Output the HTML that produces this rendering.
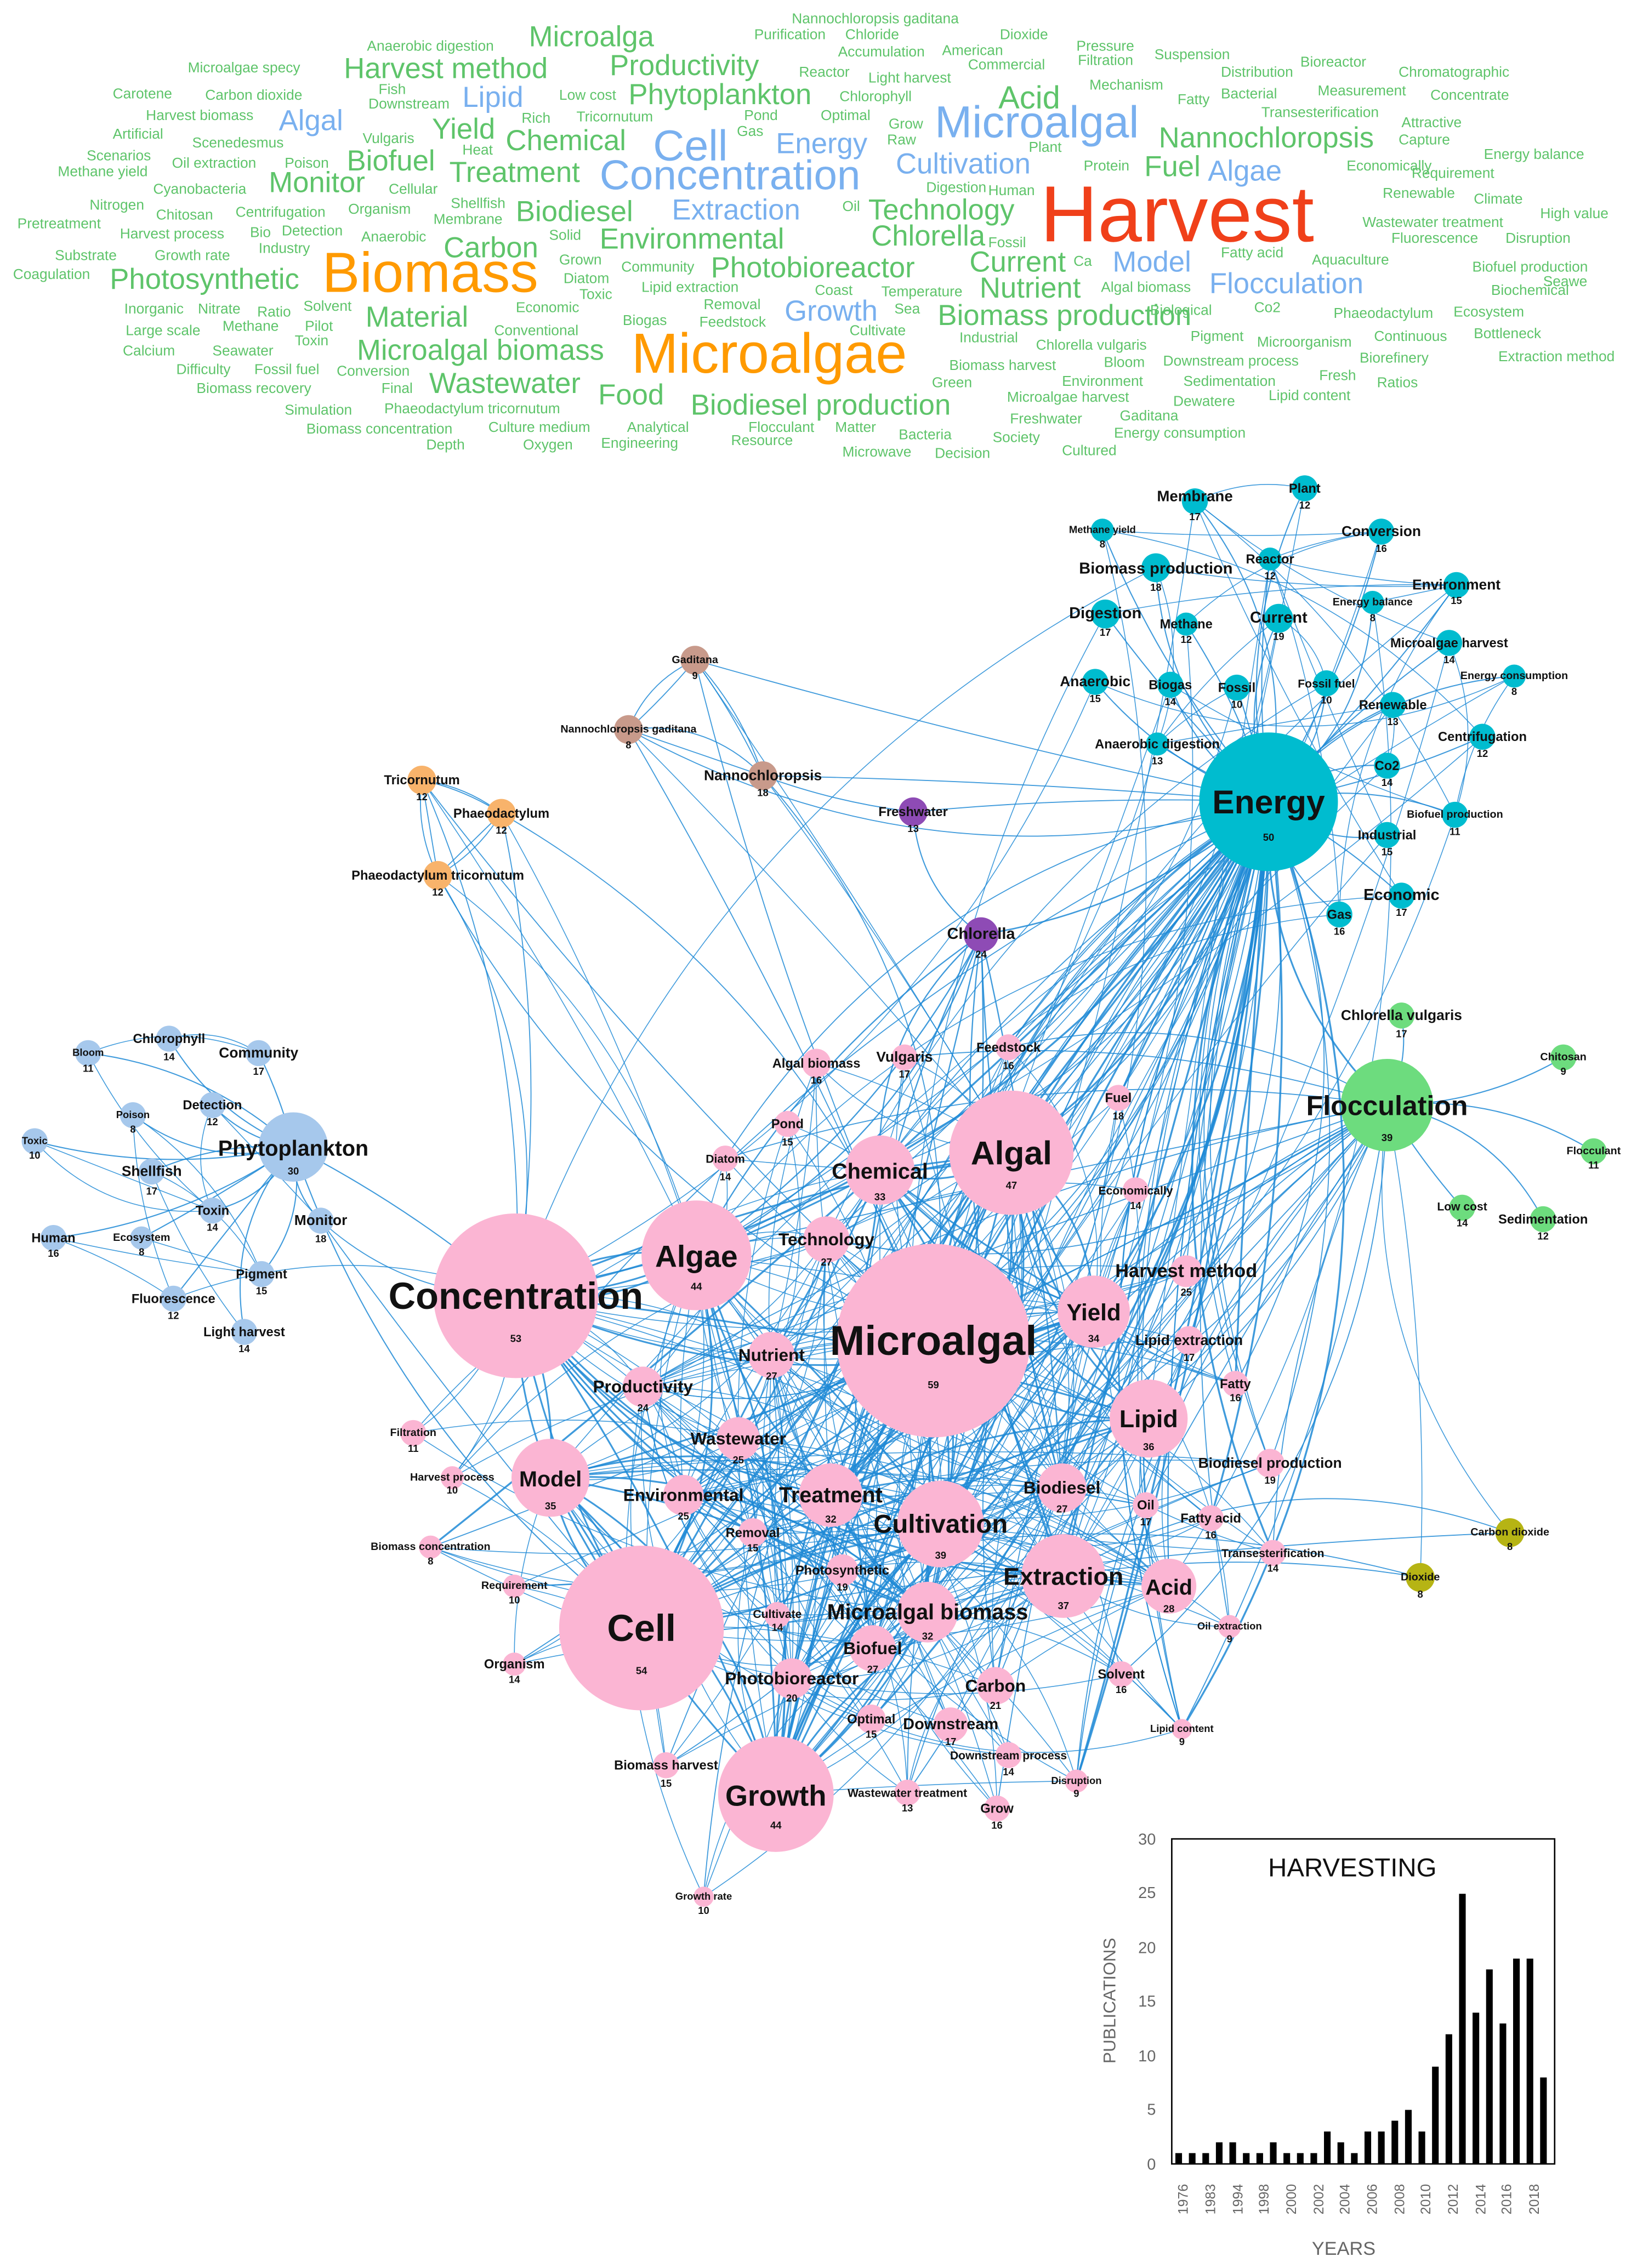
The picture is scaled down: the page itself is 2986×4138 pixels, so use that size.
<!DOCTYPE html>
<html><head><meta charset="utf-8"><style>
html,body{margin:0;padding:0;background:#fff}
svg{display:block}
.w text{font-family:"Liberation Sans",sans-serif}
.g{fill:#5ec46a}.b{fill:#79b0ef}.o{fill:#ff9a00}.r{fill:#f0401a}
.n text{font-family:"Liberation Sans",sans-serif;font-weight:bold;fill:#111;text-anchor:middle}
.ax{font-family:"Liberation Sans",sans-serif;fill:#666}
</style></head><body>
<svg id="s" width="2986" height="4138" viewBox="0 0 1133 1570" xmlns="http://www.w3.org/2000/svg">
<rect width="1133" height="1570" fill="#fff"/>
<g class="w" font-size="10">
<text x="548" y="16" class="g">Nannochloropsis gaditana</text>
<text x="522" y="27" class="g">Purification</text><text x="585" y="27" class="g">Chloride</text><text x="692" y="27" class="g">Dioxide</text>
<text x="254" y="35" class="g">Anaerobic digestion</text><text x="366" y="32" class="g" font-size="20">Microalga</text><text x="580" y="39" class="g">Accumulation</text><text x="652" y="38" class="g">American</text><text x="745" y="35" class="g">Pressure</text>
<text x="130" y="50" class="g">Microalgae specy</text><text x="238" y="54" class="g" font-size="20">Harvest method</text><text x="422" y="52" class="g" font-size="20">Productivity</text><text x="553" y="53" class="g">Reactor</text><text x="601" y="57" class="g">Light harvest</text><text x="670" y="48" class="g">Commercial</text><text x="746" y="45" class="g">Filtration</text><text x="799" y="41" class="g">Suspension</text><text x="900" y="46" class="g">Bioreactor</text><text x="845" y="53" class="g">Distribution</text><text x="968" y="53" class="g">Chromatographic</text>
<text x="78" y="68" class="g">Carotene</text><text x="142" y="69" class="g">Carbon dioxide</text><text x="262" y="65" class="g">Fish</text><text x="255" y="75" class="g">Downstream</text><text x="320" y="74" class="b" font-size="20">Lipid</text><text x="387" y="69" class="g">Low cost</text><text x="435" y="72" class="g" font-size="20">Phytoplankton</text><text x="581" y="70" class="g">Chlorophyll</text><text x="691" y="75" class="g" font-size="22">Acid</text><text x="754" y="62" class="g">Mechanism</text><text x="815" y="72" class="g">Fatty</text><text x="845" y="68" class="g">Bacterial</text><text x="912" y="66" class="g">Measurement</text><text x="990" y="69" class="g">Concentrate</text>
<text x="101" y="83" class="g">Harvest biomass</text><text x="193" y="90" class="b" font-size="20">Algal</text><text x="361" y="85" class="g">Rich</text><text x="399" y="84" class="g">Tricornutum</text><text x="515" y="83" class="g">Pond</text><text x="568" y="83" class="g">Optimal</text><text x="615" y="89" class="g">Grow</text><text x="647" y="95" class="b" font-size="31">Microalgal</text><text x="873" y="81" class="g">Transesterification</text>
<text x="78" y="96" class="g">Artificial</text><text x="251" y="99" class="g">Vulgaris</text><text x="299" y="96" class="g" font-size="20">Yield</text><text x="350" y="104" class="g" font-size="20">Chemical</text><text x="452" y="111" class="b" font-size="30">Cell</text><text x="510" y="94" class="g">Gas</text><text x="537" y="106" class="b" font-size="20">Energy</text><text x="614" y="100" class="g">Raw</text><text x="802" y="102" class="g" font-size="20">Nannochloropsis</text><text x="970" y="88" class="g">Attractive</text><text x="968" y="100" class="g">Capture</text>
<text x="60" y="111" class="g">Scenarios</text><text x="133" y="102" class="g">Scenedesmus</text><text x="320" y="107" class="g">Heat</text><text x="712" y="105" class="g">Plant</text><text x="1027" y="110" class="g">Energy balance</text>
<text x="40" y="122" class="g">Methane yield</text><text x="119" y="116" class="g">Oil extraction</text><text x="197" y="116" class="g">Poison</text><text x="240" y="118" class="g" font-size="20">Biofuel</text><text x="311" y="126" class="g" font-size="20">Treatment</text><text x="415" y="131" class="b" font-size="29">Concentration</text><text x="620" y="120" class="b" font-size="20">Cultivation</text><text x="750" y="118" class="g">Protein</text><text x="792" y="122" class="g" font-size="20">Fuel</text><text x="836" y="125" class="b" font-size="20">Algae</text><text x="932" y="118" class="g">Economically</text><text x="977" y="123" class="g">Requirement</text>
<text x="106" y="134" class="g">Cyanobacteria</text><text x="186" y="133" class="g" font-size="20">Monitor</text><text x="269" y="134" class="g">Cellular</text><text x="641" y="133" class="g">Digestion</text><text x="684" y="135" class="g">Human</text><text x="720" y="167" class="r" font-size="55">Harvest</text><text x="957" y="137" class="g">Renewable</text><text x="1020" y="141" class="g">Climate</text>
<text x="62" y="145" class="g">Nitrogen</text><text x="12" y="158" class="g">Pretreatment</text><text x="108" y="152" class="g">Chitosan</text><text x="163" y="150" class="g">Centrifugation</text><text x="241" y="148" class="g">Organism</text><text x="312" y="144" class="g">Shellfish</text><text x="300" y="155" class="g">Membrane</text><text x="357" y="153" class="g" font-size="20">Biodiesel</text><text x="465" y="152" class="b" font-size="20">Extraction</text><text x="583" y="146" class="g">Oil</text><text x="601" y="152" class="g" font-size="20">Technology</text><text x="943" y="157" class="g">Wastewater treatment</text><text x="1066" y="151" class="g">High value</text>
<text x="83" y="165" class="g">Harvest process</text><text x="173" y="164" class="g">Bio</text><text x="195" y="163" class="g">Detection</text><text x="250" y="167" class="g">Anaerobic</text><text x="380" y="166" class="g">Solid</text><text x="415" y="172" class="g" font-size="20">Environmental</text><text x="603" y="170" class="g" font-size="20">Chlorella</text><text x="684" y="171" class="g">Fossil</text><text x="963" y="168" class="g">Fluorescence</text><text x="1042" y="168" class="g">Disruption</text>
<text x="38" y="180" class="g">Substrate</text><text x="107" y="180" class="g">Growth rate</text><text x="179" y="175" class="g">Industry</text><text x="307" y="178" class="g" font-size="20">Carbon</text><text x="387" y="183" class="g">Grown</text><text x="430" y="188" class="g">Community</text><text x="492" y="192" class="g" font-size="20">Photobioreactor</text><text x="671" y="188" class="g" font-size="20">Current</text><text x="743" y="184" class="g">Ca</text><text x="770" y="188" class="b" font-size="20">Model</text><text x="845" y="178" class="g">Fatty acid</text><text x="908" y="183" class="g">Aquaculture</text><text x="1019" y="188" class="g">Biofuel production</text>
<text x="9" y="193" class="g">Coagulation</text><text x="76" y="200" class="g" font-size="20">Photosynthetic</text><text x="223" y="202" class="o" font-size="39">Biomass</text><text x="390" y="196" class="g">Diatom</text><text x="401" y="207" class="g">Toxic</text><text x="444" y="202" class="g">Lipid extraction</text><text x="564" y="204" class="g">Coast</text><text x="610" y="205" class="g">Temperature</text><text x="678" y="206" class="g" font-size="20">Nutrient</text><text x="762" y="202" class="g">Algal biomass</text><text x="837" y="203" class="b" font-size="20">Flocculation</text><text x="1032" y="204" class="g">Biochemical</text><text x="1068" y="198" class="g">Seawe</text>
<text x="86" y="217" class="g">Inorganic</text><text x="137" y="217" class="g">Nitrate</text><text x="178" y="219" class="g">Ratio</text><text x="210" y="215" class="g">Solvent</text><text x="253" y="226" class="g" font-size="20">Material</text><text x="357" y="216" class="g">Economic</text><text x="487" y="214" class="g">Removal</text><text x="543" y="222" class="b" font-size="20">Growth</text><text x="619" y="217" class="g">Sea</text><text x="649" y="225" class="g" font-size="20">Biomass production</text><text x="796" y="218" class="g">Biological</text><text x="868" y="216" class="g">Co2</text><text x="923" y="220" class="g">Phaeodactylum</text><text x="1006" y="219" class="g">Ecosystem</text>
<text x="87" y="232" class="g">Large scale</text><text x="154" y="229" class="g">Methane</text><text x="211" y="229" class="g">Pilot</text><text x="342" y="232" class="g">Conventional</text><text x="431" y="225" class="g">Biogas</text><text x="484" y="226" class="g">Feedstock</text><text x="588" y="232" class="g">Cultivate</text><text x="664" y="237" class="g">Industrial</text><text x="717" y="242" class="g">Chlorella vulgaris</text><text x="824" y="236" class="g">Pigment</text><text x="870" y="240" class="g">Microorganism</text><text x="951" y="236" class="g">Continuous</text><text x="1020" y="234" class="g">Bottleneck</text>
<text x="204" y="239" class="g">Toxin</text><text x="85" y="246" class="g">Calcium</text><text x="147" y="246" class="g">Seawater</text><text x="247" y="249" class="g" font-size="20">Microalgal biomass</text><text x="437" y="258" class="o" font-size="39">Microalgae</text><text x="657" y="256" class="g">Biomass harvest</text><text x="764" y="254" class="g">Bloom</text><text x="805" y="253" class="g">Downstream process</text><text x="941" y="251" class="g">Biorefinery</text><text x="1037" y="250" class="g">Extraction method</text>
<text x="122" y="259" class="g">Difficulty</text><text x="176" y="259" class="g">Fossil fuel</text><text x="233" y="260" class="g">Conversion</text><text x="297" y="272" class="g" font-size="20">Wastewater</text><text x="264" y="272" class="g">Final</text><text x="645" y="268" class="g">Green</text><text x="735" y="267" class="g">Environment</text><text x="819" y="267" class="g">Sedimentation</text><text x="913" y="263" class="g">Fresh</text><text x="953" y="268" class="g">Ratios</text>
<text x="136" y="272" class="g">Biomass recovery</text><text x="414" y="280" class="g" font-size="20">Food</text><text x="478" y="287" class="g" font-size="20">Biodiesel production</text><text x="697" y="278" class="g">Microalgae harvest</text><text x="812" y="281" class="g">Dewatere</text><text x="878" y="277" class="g">Lipid content</text>
<text x="197" y="287" class="g">Simulation</text><text x="266" y="286" class="g">Phaeodactylum tricornutum</text><text x="699" y="293" class="g">Freshwater</text><text x="775" y="291" class="g">Gaditana</text>
<text x="212" y="300" class="g">Biomass concentration</text><text x="338" y="299" class="g">Culture medium</text><text x="434" y="299" class="g">Analytical</text><text x="518" y="299" class="g">Flocculant</text><text x="578" y="299" class="g">Matter</text><text x="622" y="304" class="g">Bacteria</text><text x="687" y="306" class="g">Society</text><text x="771" y="303" class="g">Energy consumption</text>
<text x="295" y="311" class="g">Depth</text><text x="362" y="311" class="g">Oxygen</text><text x="416" y="310" class="g">Engineering</text><text x="506" y="308" class="g">Resource</text><text x="583" y="316" class="g">Microwave</text><text x="647" y="317" class="g">Decision</text><text x="735" y="315" class="g">Cultured</text>
</g>
<g id="edges" fill="none" stroke="#1f8ad6" stroke-width="0.7" stroke-opacity="0.85"></g>
<g class="n" id="nodes">
<g fill="#fbb5d3">
<circle cx="357" cy="897" r="57"/><circle cx="444" cy="1127" r="57"/><circle cx="646" cy="928" r="67"/><circle cx="700" cy="798" r="43"/><circle cx="482" cy="869" r="38"/><circle cx="537" cy="1242" r="40"/><circle cx="609" cy="810" r="24"/><circle cx="381" cy="1023" r="27"/><circle cx="795" cy="982" r="27"/><circle cx="651" cy="1055" r="30"/><circle cx="736" cy="1091" r="29"/><circle cx="757" cy="908" r="25"/><circle cx="809" cy="1098" r="19"/><circle cx="575" cy="1035" r="22"/><circle cx="642" cy="1116" r="21"/><circle cx="572" cy="858" r="16"/><circle cx="534" cy="938" r="16"/><circle cx="511" cy="996" r="15"/><circle cx="445" cy="960" r="14"/><circle cx="473" cy="1035" r="14"/><circle cx="735" cy="1030" r="17"/><circle cx="604" cy="1141" r="16"/><circle cx="548" cy="1162" r="14"/><circle cx="689" cy="1167" r="13"/><circle cx="658" cy="1194" r="12"/><circle cx="603" cy="1190" r="10"/><circle cx="583" cy="1087" r="11"/><circle cx="521" cy="1061" r="10"/><circle cx="538" cy="1118" r="9"/><circle cx="821" cy="880" r="11"/><circle cx="823" cy="928" r="10"/><circle cx="855" cy="958" r="9"/><circle cx="879" cy="1013" r="10"/><circle cx="793" cy="1042" r="9"/><circle cx="838" cy="1051" r="9"/><circle cx="881" cy="1075" r="9"/><circle cx="851" cy="1126" r="8"/><circle cx="776" cy="1159" r="9"/><circle cx="818" cy="1197" r="7"/><circle cx="745" cy="1233" r="8"/><circle cx="698" cy="1215" r="9"/><circle cx="690" cy="1252" r="9"/><circle cx="628" cy="1241" r="9"/><circle cx="461" cy="1222" r="9"/><circle cx="356" cy="1152" r="8"/><circle cx="356" cy="1098" r="8"/><circle cx="298" cy="1071" r="8"/><circle cx="313" cy="1023" r="8"/><circle cx="286" cy="992" r="9"/><circle cx="487" cy="1313" r="7"/><circle cx="502" cy="802" r="9"/><circle cx="545" cy="778" r="9"/><circle cx="565" cy="736" r="10"/><circle cx="626" cy="732" r="9"/><circle cx="698" cy="725" r="9"/><circle cx="774" cy="760" r="9"/><circle cx="786" cy="824" r="9"/>
</g>
<g fill="#00bccf">
<circle cx="878" cy="555" r="48"/><circle cx="827" cy="347" r="9"/><circle cx="903" cy="338" r="9"/><circle cx="956" cy="368" r="9"/><circle cx="763" cy="367" r="8"/><circle cx="800" cy="393" r="10"/><circle cx="879" cy="387" r="8"/><circle cx="1008" cy="405" r="9"/><circle cx="950" cy="417" r="8"/><circle cx="765" cy="425" r="10"/><circle cx="821" cy="432" r="8"/><circle cx="885" cy="428" r="10"/><circle cx="1003" cy="445" r="9"/><circle cx="758" cy="472" r="9"/><circle cx="810" cy="474" r="9"/><circle cx="856" cy="476" r="9"/><circle cx="918" cy="473" r="9"/><circle cx="1048" cy="468" r="8"/><circle cx="964" cy="488" r="9"/><circle cx="801" cy="515" r="8"/><circle cx="1026" cy="510" r="9"/><circle cx="960" cy="530" r="9"/><circle cx="1007" cy="564" r="9"/><circle cx="960" cy="578" r="9"/><circle cx="970" cy="620" r="9"/><circle cx="927" cy="633" r="9"/>
</g>
<g fill="#6ddc7e"><circle cx="960" cy="765" r="32"/><circle cx="970" cy="703" r="9"/><circle cx="1082" cy="732" r="9"/><circle cx="1103" cy="797" r="9"/><circle cx="1012" cy="836" r="9"/><circle cx="1068" cy="844" r="9"/></g>
<g fill="#f8b36b"><circle cx="292" cy="540" r="10"/><circle cx="347" cy="563" r="10"/><circle cx="303" cy="606" r="10"/></g>
<g fill="#c89a8b"><circle cx="481" cy="457" r="10"/><circle cx="435" cy="505" r="10"/><circle cx="528" cy="537" r="10"/></g>
<g fill="#8e4bb5"><circle cx="632" cy="562" r="10"/><circle cx="679" cy="647" r="12"/></g>
<g fill="#b6b414"><circle cx="1045" cy="1061" r="10"/><circle cx="983" cy="1092" r="10"/></g>
<g fill="#a6c8ec"><circle cx="203" cy="794" r="24"/><circle cx="61" cy="729" r="9"/><circle cx="117" cy="719" r="9"/><circle cx="179" cy="729" r="9"/><circle cx="147" cy="765" r="9"/><circle cx="92" cy="772" r="9"/><circle cx="24" cy="790" r="9"/><circle cx="105" cy="811" r="9"/><circle cx="147" cy="838" r="9"/><circle cx="222" cy="845" r="9"/><circle cx="37" cy="857" r="9"/><circle cx="98" cy="857" r="8"/><circle cx="181" cy="882" r="9"/><circle cx="120" cy="899" r="9"/><circle cx="169" cy="922" r="9"/></g>
<g font-size="26"><text x="357" y="906">Concentration</text><text x="444" y="1136">Cell</text><text x="646" y="938" font-size="29">Microalgal</text><text x="700" y="806" font-size="23">Algal</text><text x="482" y="877" font-size="21">Algae</text><text x="537" y="1250" font-size="20">Growth</text><text x="878" y="563" font-size="23">Energy</text><text x="960" y="772" font-size="19">Flocculation</text></g>
<g font-size="15"><text x="203" y="800">Phytoplankton</text><text x="609" y="816">Chemical</text><text x="381" y="1029">Model</text><text x="795" y="988" font-size="17">Lipid</text><text x="651" y="1061" font-size="18">Cultivation</text><text x="736" y="1097" font-size="17">Extraction</text><text x="757" y="914" font-size="16">Yield</text><text x="809" y="1104">Acid</text><text x="575" y="1040">Treatment</text><text x="642" y="1121">Microalgal biomass</text></g>
<g font-size="12"><text x="572" y="862">Technology</text><text x="534" y="942">Nutrient</text><text x="511" y="1000">Wastewater</text><text x="445" y="964">Productivity</text><text x="473" y="1039">Environmental</text><text x="735" y="1034">Biodiesel</text><text x="604" y="1145">Biofuel</text><text x="548" y="1166">Photobioreactor</text><text x="689" y="1171">Carbon</text><text x="658" y="1197" font-size="11">Downstream</text><text x="821" y="884" font-size="13">Harvest method</text><text x="823" y="931" font-size="10">Lipid extraction</text><text x="879" y="1016" font-size="10">Biodiesel production</text><text x="827" y="347" font-size="10.5">Membrane</text><text x="956" y="371" font-size="10">Conversion</text><text x="800" y="397" font-size="11">Biomass production</text><text x="1008" y="408" font-size="10">Environment</text><text x="765" y="428" font-size="11">Digestion</text><text x="885" y="431" font-size="11">Current</text><text x="758" y="475" font-size="10">Anaerobic</text><text x="970" y="623" font-size="11">Economic</text></g>
<g font-size="9"><text x="603" y="1193">Optimal</text><text x="583" y="1090">Photosynthetic</text><text x="521" y="1064">Removal</text><text x="538" y="1120" font-size="8">Cultivate</text><text x="855" y="961">Fatty</text><text x="793" y="1045">Oil</text><text x="838" y="1054">Fatty acid</text><text x="881" y="1078" font-size="8">Transesterification</text><text x="851" y="1128" font-size="7">Oil extraction</text><text x="776" y="1162">Solvent</text><text x="818" y="1199" font-size="7">Lipid content</text><text x="745" y="1235" font-size="7">Disruption</text><text x="698" y="1218" font-size="8">Downstream process</text><text x="690" y="1255">Grow</text><text x="628" y="1244" font-size="8">Wastewater treatment</text><text x="461" y="1225">Biomass harvest</text><text x="356" y="1155">Organism</text><text x="356" y="1100" font-size="7.5">Requirement</text><text x="298" y="1073" font-size="7.5">Biomass concentration</text><text x="313" y="1025" font-size="7.5">Harvest process</text><text x="286" y="994" font-size="7.5">Filtration</text><text x="487" y="1315" font-size="7">Growth rate</text><text x="502" y="805" font-size="8">Diatom</text><text x="545" y="781">Pond</text><text x="565" y="739">Algal biomass</text><text x="626" y="735" font-size="10">Vulgaris</text><text x="698" y="728">Feedstock</text><text x="774" y="763">Fuel</text><text x="786" y="827" font-size="8">Economically</text>
<text x="903" y="341">Plant</text><text x="763" y="369" font-size="7">Methane yield</text><text x="879" y="390">Reactor</text><text x="950" y="419" font-size="7.5">Energy balance</text><text x="821" y="435">Methane</text><text x="1003" y="448">Microalgae harvest</text><text x="810" y="477">Biogas</text><text x="856" y="479">Fossil</text><text x="918" y="476" font-size="8">Fossil fuel</text><text x="1048" y="470" font-size="7.5">Energy consumption</text><text x="964" y="491">Renewable</text><text x="801" y="518">Anaerobic digestion</text><text x="1026" y="513">Centrifugation</text><text x="960" y="533">Co2</text><text x="1007" y="566" font-size="7.5">Biofuel production</text><text x="960" y="581">Industrial</text><text x="927" y="636">Gas</text>
<text x="970" y="706" font-size="10">Chlorella vulgaris</text><text x="1082" y="734" font-size="7.5">Chitosan</text><text x="1103" y="799" font-size="7.5">Flocculant</text><text x="1012" y="838" font-size="8">Low cost</text><text x="1068" y="847">Sedimentation</text>
<text x="292" y="543">Tricornutum</text><text x="347" y="566">Phaeodactylum</text><text x="303" y="609">Phaeodactylum tricornutum</text>
<text x="481" y="459" font-size="7.5">Gaditana</text><text x="435" y="507" font-size="7.5">Nannochloropsis gaditana</text><text x="528" y="540" font-size="10">Nannochloropsis</text>
<text x="632" y="565">Freshwater</text><text x="679" y="650" font-size="11">Chlorella</text>
<text x="1045" y="1063" font-size="7.5">Carbon dioxide</text><text x="983" y="1094" font-size="7.5">Dioxide</text>
<text x="61" y="731" font-size="7">Bloom</text><text x="117" y="722">Chlorophyll</text><text x="179" y="732" font-size="10">Community</text><text x="147" y="768">Detection</text><text x="92" y="774" font-size="7">Poison</text><text x="24" y="792" font-size="7">Toxic</text><text x="105" y="814" font-size="10">Shellfish</text><text x="147" y="841">Toxin</text><text x="222" y="848" font-size="10">Monitor</text><text x="37" y="860">Human</text><text x="98" y="859" font-size="7.5">Ecosystem</text><text x="181" y="885">Pigment</text><text x="120" y="902">Fluorescence</text><text x="169" y="925">Light harvest</text></g>
<g font-size="7" font-weight="bold">
<text x="357" y="929">53</text><text x="444" y="1159">54</text><text x="646" y="961">59</text><text x="700" y="823">47</text><text x="482" y="893">44</text><text x="537" y="1266">44</text><text x="878" y="582">50</text><text x="960" y="790">39</text><text x="203" y="813">30</text><text x="609" y="831">33</text><text x="381" y="1045">35</text><text x="795" y="1004">36</text><text x="651" y="1079">39</text><text x="736" y="1114">37</text><text x="757" y="929">34</text><text x="809" y="1116">28</text><text x="575" y="1054">32</text><text x="642" y="1135">32</text><text x="572" y="876">27</text><text x="534" y="955">27</text><text x="511" y="1013">25</text><text x="445" y="977">24</text><text x="473" y="1052">25</text><text x="735" y="1047">27</text><text x="604" y="1158">27</text><text x="548" y="1178">20</text><text x="689" y="1183">21</text><text x="658" y="1208">17</text><text x="603" y="1203">15</text><text x="583" y="1101">19</text><text x="521" y="1074">15</text><text x="538" y="1129">14</text><text x="821" y="897">25</text><text x="823" y="942">17</text><text x="855" y="970">16</text><text x="879" y="1027">19</text><text x="793" y="1056">17</text><text x="838" y="1065">16</text><text x="881" y="1088">14</text><text x="851" y="1137">9</text><text x="776" y="1172">16</text><text x="818" y="1208">9</text><text x="745" y="1244">9</text><text x="698" y="1229">14</text><text x="690" y="1266">16</text><text x="628" y="1254">13</text><text x="461" y="1237">15</text><text x="356" y="1165">14</text><text x="356" y="1110">10</text><text x="298" y="1083">8</text><text x="313" y="1034">10</text><text x="286" y="1005">11</text><text x="487" y="1325">10</text><text x="502" y="817">14</text><text x="545" y="793">15</text><text x="565" y="750">16</text><text x="626" y="746">17</text><text x="698" y="740">16</text><text x="774" y="775">18</text><text x="786" y="837">14</text>
<text x="827" y="360">17</text><text x="903" y="352">12</text><text x="956" y="382">16</text><text x="763" y="379">8</text><text x="800" y="409">18</text><text x="879" y="401">12</text><text x="1008" y="418">15</text><text x="950" y="430">8</text><text x="765" y="440">17</text><text x="821" y="445">12</text><text x="885" y="443">19</text><text x="1003" y="459">14</text><text x="758" y="486">15</text><text x="810" y="488">14</text><text x="856" y="490">10</text><text x="918" y="487">10</text><text x="1048" y="481">8</text><text x="964" y="502">13</text><text x="801" y="529">13</text><text x="1026" y="524">12</text><text x="960" y="544">14</text><text x="1007" y="578">11</text><text x="960" y="592">15</text><text x="970" y="634">17</text><text x="927" y="647">16</text>
<text x="970" y="718">17</text><text x="1082" y="744">9</text><text x="1103" y="809">11</text><text x="1012" y="849">14</text><text x="1068" y="858">12</text>
<text x="292" y="554">12</text><text x="347" y="577">12</text><text x="303" y="620">12</text><text x="481" y="470">9</text><text x="435" y="518">8</text><text x="528" y="551">18</text><text x="632" y="576">13</text><text x="679" y="663">24</text><text x="1045" y="1073">8</text><text x="983" y="1106">8</text>
<text x="61" y="742">11</text><text x="117" y="734">14</text><text x="179" y="744">17</text><text x="147" y="779">12</text><text x="92" y="784">8</text><text x="24" y="802">10</text><text x="105" y="827">17</text><text x="147" y="852">14</text><text x="222" y="860">18</text><text x="37" y="870">16</text><text x="98" y="869">8</text><text x="181" y="896">15</text><text x="120" y="913">12</text><text x="169" y="936">14</text>
</g>
</g>
<g id="chart">
<rect x="811" y="1273" width="265" height="225" fill="none" stroke="#000" stroke-width="1"/>
<g class="ax" font-size="11" text-anchor="end"><text x="800" y="1502">0</text><text x="800" y="1464">5</text><text x="800" y="1427">10</text><text x="800" y="1389">15</text><text x="800" y="1352">20</text><text x="800" y="1314">25</text><text x="800" y="1277">30</text></g>
<text x="936" y="1299" font-family="Liberation Sans,sans-serif" font-size="18" text-anchor="middle" fill="#111">HARVESTING</text>
<text transform="translate(772,1385) rotate(-90)" class="ax" font-size="12" text-anchor="middle">PUBLICATIONS</text>
<text x="930" y="1561" class="ax" font-size="13" text-anchor="middle">YEARS</text>
<g id="bars" fill="#000"></g>
<g class="ax" font-size="9.5">
<text transform="translate(822,1533) rotate(-90)">1976</text><text transform="translate(841,1533) rotate(-90)">1983</text><text transform="translate(860,1533) rotate(-90)">1994</text><text transform="translate(878,1533) rotate(-90)">1998</text><text transform="translate(897,1533) rotate(-90)">2000</text><text transform="translate(916,1533) rotate(-90)">2002</text><text transform="translate(934,1533) rotate(-90)">2004</text><text transform="translate(953,1533) rotate(-90)">2006</text><text transform="translate(972,1533) rotate(-90)">2008</text><text transform="translate(990,1533) rotate(-90)">2010</text><text transform="translate(1009,1533) rotate(-90)">2012</text><text transform="translate(1028,1533) rotate(-90)">2014</text><text transform="translate(1046,1533) rotate(-90)">2016</text><text transform="translate(1065,1533) rotate(-90)">2018</text>
</g>
</g>
</svg>
<script>
(function(){
var NS="http://www.w3.org/2000/svg";
var vals=[1,1,1,2,2,1,1,2,1,1,1,3,2,1,3,3,4,5,3,9,12,25,14,18,13,19,19,8];
var bg=document.getElementById('bars');
vals.forEach(function(v,i){var r=document.createElementNS(NS,'rect');var x=813.5+i*9.35;var h=v*7.48;r.setAttribute('x',x);r.setAttribute('y',1498-h);r.setAttribute('width',4.6);r.setAttribute('height',h);bg.appendChild(r);});
var cs=[].slice.call(document.querySelectorAll('#nodes circle')).map(function(c){return{x:+c.getAttribute('cx'),y:+c.getAttribute('cy'),r:+c.getAttribute('r'),f:c.parentNode.getAttribute('fill')};});
var seed=7;function rnd(){seed=(seed*16807)%2147483647;return seed/2147483647;}
var eg=document.getElementById('edges');
function edge(a,b,w){var dx=b.x-a.x,dy=b.y-a.y;var k=(rnd()-0.5)*0.5;var mx=(a.x+b.x)/2-dy*k,my=(a.y+b.y)/2+dx*k;var p=document.createElementNS(NS,'path');p.setAttribute('d','M'+a.x+' '+a.y+'Q'+mx.toFixed(1)+' '+my.toFixed(1)+' '+b.x+' '+b.y);if(w)p.setAttribute('stroke-width',w);eg.appendChild(p);}
function grp(f){return cs.filter(function(c){return c.f==f;});}
var pink=grp('#fbb5d3'),teal=grp('#00bccf'),green=grp('#6ddc7e'),orng=grp('#f8b36b'),brown=grp('#c89a8b'),purp=grp('#8e4bb5'),olive=grp('#b6b414'),blue=grp('#a6c8ec');
var energy=teal[0],floc=green[0],phyto=blue[0];
var hubs=pink.filter(function(c){return c.r>=14;});
pink.forEach(function(a){var n=Math.round(a.r/4)+2;for(var i=0;i<n;i++){var b=hubs[Math.floor(rnd()*hubs.length)];if(b!==a)edge(a,b,a.r>20&&b.r>20?1.2:0.6);}});
for(var i=0;i<70;i++){var b=pink[Math.floor(rnd()*pink.length)];edge(energy,b,rnd()<0.3?1.3:0.7);}
teal.slice(1).forEach(function(t){edge(t,energy,0.8);edge(t,teal[1+Math.floor(rnd()*(teal.length-1))],0.6);edge(t,hubs[Math.floor(rnd()*hubs.length)],0.6);});
green.slice(1).forEach(function(g){edge(g,floc,0.8);});
for(var i=0;i<25;i++){edge(floc,pink[Math.floor(rnd()*pink.length)],0.7);}
edge(floc,energy,1.2);
blue.slice(1).forEach(function(c){edge(c,phyto,0.8);edge(c,blue[1+Math.floor(rnd()*(blue.length-1))],0.6);});
edge(phyto,pink[0],0.8);edge(phyto,pink[1],0.8);edge(blue[9],pink[1],0.7);edge(blue[9],pink[0],0.7);edge(blue[13],pink[0],0.6);
orng.forEach(function(o){orng.forEach(function(p){if(o!==p)edge(o,p,0.7);});edge(o,pink[0],0.7);edge(o,pink[2],0.7);edge(o,pink[4],0.6);});
brown.forEach(function(o){brown.forEach(function(p){if(o!==p)edge(o,p,0.7);});edge(o,pink[2],0.7);edge(o,energy,0.7);edge(o,pink[3],0.6);});
edge(purp[0],purp[1],0.8);edge(purp[0],energy,0.7);edge(purp[0],brown[2],0.7);
for(var i=0;i<10;i++){edge(purp[1],hubs[Math.floor(rnd()*hubs.length)],0.9);}edge(purp[1],energy,1);
olive.forEach(function(o){edge(o,pink[1],0.7);edge(o,pink[10],0.7);edge(o,floc,0.6);});
})();
</script>
</body></html>
